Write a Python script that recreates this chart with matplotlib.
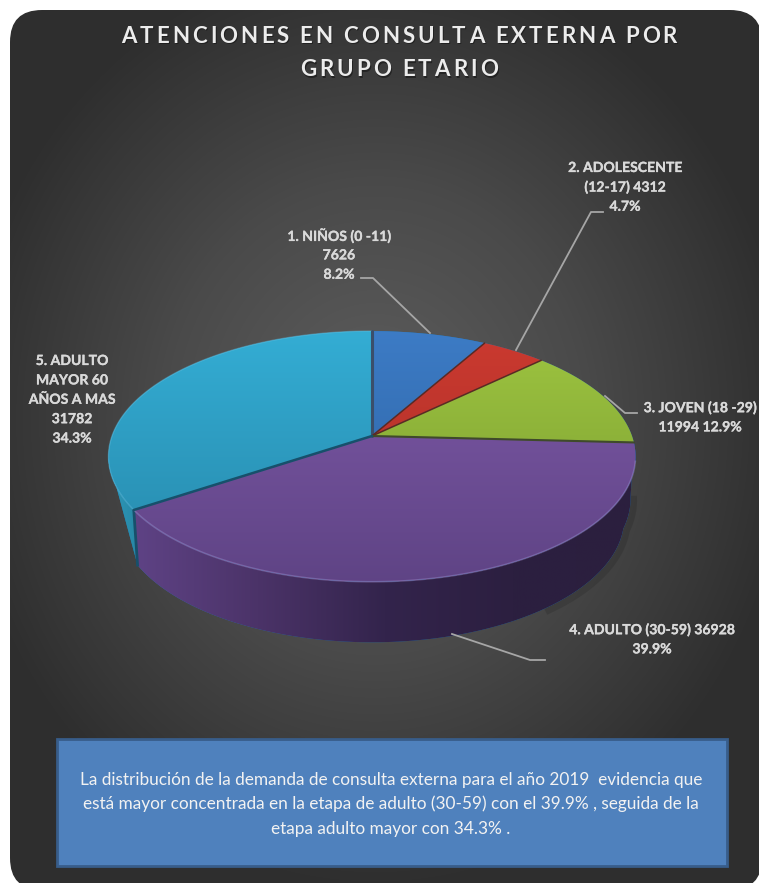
import numpy as np
import matplotlib
matplotlib.use('Agg')
import matplotlib.pyplot as plt
import matplotlib.patheffects as pe
from matplotlib.colors import LinearSegmentedColormap
from matplotlib.font_manager import FontProperties
from matplotlib.patches import FancyBboxPatch, Polygon, Rectangle
from matplotlib.text import Text

plt.rcParams['font.family'] = ['Lato', 'DejaVu Sans']

grupos = ['1. NIÑOS (0 -11)', '2. ADOLESCENTE (12-17)', '3. JOVEN (18 -29)',
          '4. ADULTO (30-59)', '5. ADULTO MAYOR 60 AÑOS A MAS']
atenciones = [7626, 4312, 11994, 36928, 31782]
porcentajes = ['8.2%', '4.7%', '12.9%', '39.9%', '34.3%']
colores_top = [('#3d7cc6', '#2a5f9e'), ('#cc3a30', '#a52d26'), ('#9fc641', '#76982f'),
               ('#7f5aa9', '#5e4384'), ('#34aed5', '#2686a8')]
titulo = ['ATENCIONES EN CONSULTA EXTERNA POR', 'GRUPO ETARIO']
nota = ['La distribución de la demanda de consulta externa para el año 2019  evidencia que',
        'está mayor concentrada en la etapa de adulto (30-59) con el 39.9% , seguida de la',
        'etapa adulto mayor con 34.3% .']

W, H = 759, 883
fig = plt.figure(figsize=(W / 100, H / 100), dpi=100, facecolor='white')
ax = fig.add_axes([0, 0, 1, 1])


# texto con espaciado entre letras, matplotlib no lo trae
class SpacedText(Text):
    spacing = 3.1

    def widths(self, renderer):
        fp = self.get_fontproperties()
        px = fp.get_size_in_points() * 100 / 72
        out = []
        for c in self.get_text():
            if c == ' ':
                out.append(px * 0.2)
            else:
                out.append(renderer.get_text_width_height_descent(c, fp, False)[0])
        return out

    def draw(self, renderer):
        fp = self.get_fontproperties()
        w = self.widths(renderer)
        sp = self.spacing
        x0, y0 = self.get_transform().transform(self.get_position())
        x = x0 - (sum(w) + sp * (len(w) - 1)) / 2
        y = renderer.height - y0
        gc = renderer.new_gc()
        for c, wc in zip(self.get_text(), w):
            gc.set_foreground('#111111')
            gc.set_alpha(0.55)
            renderer.draw_text(gc, x + 1, y + 1.5, c, fp, 0, False)
            gc.set_foreground(self.get_color())
            gc.set_alpha(1)
            renderer.draw_text(gc, x, y, c, fp, 0, False)
            x += wc + sp
        gc.restore()


# perspectiva del disco
K = 0.163
K2 = 0.22


def top_rim(theta):
    u, v = np.sin(theta), np.cos(theta)
    s = 1 / (1 + K * v)
    return 372 + 260 * u * s, 436 - 122 * v * s


def bottom_rim(theta):
    u, v = np.sin(theta), np.cos(theta)
    s = 1 / (1 + K2 * v)
    b = np.where(u > 0, 246 + 12 * np.clip((v + 0.3) / 0.3, 0, 1), 247)
    return 372 + b * u * s, 491 - 118 * v * s


def gradient(patch, colors, extent, horizontal=False):
    cmap = LinearSegmentedColormap.from_list('g', colors)
    g = np.linspace(0, 1, 256)
    g = g.reshape(1, -1) if horizontal else g.reshape(-1, 1)
    ax.add_patch(patch)
    im = ax.imshow(g, cmap=cmap, extent=extent, aspect='auto', origin='upper', zorder=patch.get_zorder())
    im.set_clip_path(patch)


# fondo
yy, xx = np.mgrid[0:H, 0:W]
r = np.sqrt(((xx - 375) / 420) ** 2 + ((yy - 420) / 470) ** 2)
fondo = np.clip(r, 0, 1)
cmap_bg = LinearSegmentedColormap.from_list('bg', ['#5e5e5e', '#4a4a4a', '#2e2e2e'])
box = FancyBboxPatch((10, 10), 752, 880, boxstyle='round,pad=0,rounding_size=32',
                     fc='none', ec='none')
ax.add_patch(box)
im = ax.imshow(fondo, cmap=cmap_bg, extent=[0, W, H, 0], aspect='auto', zorder=0)
im.set_clip_path(box)

# angulos desde los datos
total = sum(atenciones)
bordes = 2 * np.pi * np.cumsum([0] + atenciones) / total


# costados
def side(a, b):
    t = np.linspace(a, b, 120)
    x1, y1 = top_rim(t)
    x2, y2 = bottom_rim(t)
    return Polygon(np.r_[np.c_[x1, y1], np.c_[x2, y2][::-1]], closed=True, ec='none')


sombra_t = np.linspace(bordes[3], bordes[3] + 0.9, 60)
sx, sy = bottom_rim(sombra_t)
ax.plot(sx + 3, sy + 2, color='#202020', lw=5, alpha=0.22, zorder=1)

# costado cyan: del borde izquierdo a la esquina inferior
t = np.linspace(bordes[4], bordes[4] + 0.41, 60)
x1, y1 = top_rim(t)
x2, y2 = bottom_rim(bordes[4])
gradient(Polygon(np.r_[np.c_[x1, y1], [[x2, y2]]], closed=True, ec='none'),
         ['#2f9cbd', '#257f9c'], [105, 150, 580, 430], True)
p = side(bordes[3], bordes[4])
p.set_zorder(2)
gradient(p, ['#5f4386', '#4b3368', '#33244c', '#2c1f40', '#2b1f3e'], [130, 640, 650, 430], True)
cx, cy = top_rim(bordes[4])
ax.plot([cx, x2], [cy, y2], color='#17506b', lw=2, zorder=3)

# tapa
orden = [4, 0, 1, 2, 3]
for i in orden:
    t = np.linspace(bordes[i], bordes[i + 1], 150)
    x, y = top_rim(t)
    pts = np.r_[[[372, 436]], np.c_[x, y]]
    poly = Polygon(pts, closed=True, ec='none', zorder=4)
    gradient(poly, colores_top[i], [100, 640, 590, 325])

# brillo del borde y lineas entre sectores
t = np.linspace(bordes[3] + 0.15, bordes[4], 120)
ax.plot(*top_rim(t), color='#a98fd0', lw=1.2, alpha=0.4, zorder=5)
t = np.linspace(bordes[4], 2 * np.pi, 120)
ax.plot(*top_rim(t), color='#6cc8e4', lw=1, alpha=0.4, zorder=5)
lineas = ['#3a4f6b', '#5a2a24', '#5a2a24', '#3f4a2a', '#17506b']
anchos = [2.2, 1.1, 1.1, 1.5, 1.8]
for b, c, a in zip(bordes[:-1], lineas, anchos):
    x, y = top_rim(b)
    ax.plot([372, x], [436, y], color=c, lw=a, zorder=6, solid_capstyle='round')

# lineas guia
guias = [[(361, 278), (373, 278), (430, 333)],
         [(603, 212), (591, 212), (516, 350)],
         [(637, 413), (625, 413), (605, 396)],
         [(452, 634), (530, 660), (545, 660)]]
for g in guias:
    g = np.array(g)
    ax.plot(g[:, 0], g[:, 1], color='#a6a6a6', lw=1.3, zorder=7)

# etiquetas
n = [str(v) for v in atenciones]
etiquetas = [(['1. NIÑOS (0 -11)', n[0], porcentajes[0]], 339, 236),
             (['2. ADOLESCENTE', '(12-17) ' + n[1], porcentajes[1]], 625, 168),
             (['3. JOVEN (18 -29)', n[2] + ' ' + porcentajes[2]], 700, 408),
             (['4. ADULTO (30-59) ' + n[3], porcentajes[3]], 652, 630),
             (['5. ADULTO', 'MAYOR 60', 'AÑOS A MAS', n[4], porcentajes[4]], 72, 361)]
for lin, x, y0 in etiquetas:
    for j, s in enumerate(lin):
        ax.text(x, y0 + j * 19.4, s, color='#d9d9d9', fontsize=10.1, fontweight='bold',
                ha='center', va='center', zorder=8,
                path_effects=[pe.withStroke(linewidth=0.2, foreground='#d9d9d9')])

# titulo
for s, y in zip(titulo, [43, 76]):
    tx = SpacedText(399, y, s, color='#ececec', ha='center', va='baseline',
                    fontproperties=FontProperties(family='Lato', weight='bold', size=16))
    ax.add_artist(tx)
    tx.set_transform(ax.transData)

# cuadro de nota
ax.add_patch(Rectangle((57, 739), 670, 127, fc='#4f81bd', ec='#385d8a', lw=2, zorder=9))
for s, y in zip(nota, [780, 804, 829]):
    ax.text(391, y, s, color='#f2f2f2', fontsize=12.4, ha='center', va='center', zorder=10)

ax.set_xlim(0, W)
ax.set_ylim(H, 0)
ax.axis('off')
fig.savefig('out.png', dpi=100, facecolor='white')
